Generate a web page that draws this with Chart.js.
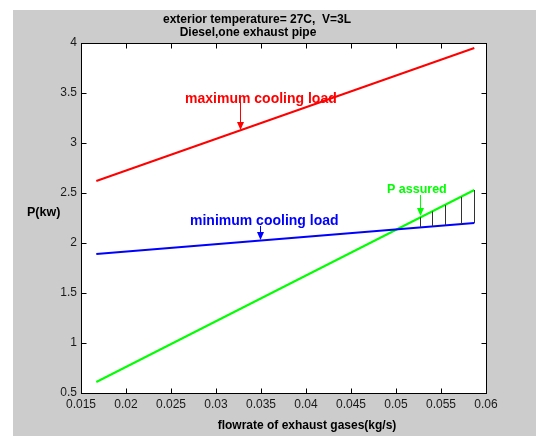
<!DOCTYPE html>
<html>
<head>
<meta charset="utf-8">
<script src="https://cdn.jsdelivr.net/npm/chart.js@4/dist/chart.umd.min.js"></script>
<style>
html,body{margin:0;padding:0;background:#fff;}
canvas{display:block;}
</style>
</head>
<body>
<canvas id="c" width="536" height="436"></canvas>
<script>
// ---- data ----
const flowX = [0.0167, 0.0587];
const maxCooling = [2.62, 3.95];
const minCooling = [1.89, 2.20];
const pAssured = [0.61, 2.53];

const hatchX = [0.0527, 0.0540, 0.0554, 0.0572, 0.0587];
const hatchTop = [2.256, 2.315, 2.379, 2.461, 2.53];
const hatchBottom = [2.156, 2.166, 2.176, 2.189, 2.20];

const xTicks = [0.015, 0.02, 0.025, 0.03, 0.035, 0.04, 0.045, 0.05, 0.055, 0.06];
const xTickLabels = ['0.015', '0.02', '0.025', '0.03', '0.035', '0.04', '0.045', '0.05', '0.055', '0.06'];
const yTicks = [0.5, 1, 1.5, 2, 2.5, 3, 3.5, 4];
const yTickLabels = ['0.5', '1', '1.5', '2', '2.5', '3', '3.5', '4'];

const titleLines = ['exterior temperature= 27C,  V=3L', 'Diesel,one exhaust pipe'];
const xLabel = 'flowrate of exhaust gases(kg/s)';
const yLabel = 'P(kw)';

const FAM = '"Liberation Sans", Arial, sans-serif';
const annotations = [
  {text: 'maximum cooling load', color: '#ff0000', size: 14, tx: 0.02656, ty: 3.44, ax: 0.03267, ay0: 3.41, ay1: 3.13},
  {text: 'minimum cooling load', color: '#0000ff', size: 14, tx: 0.02711, ty: 2.22, ax: 0.03489, ay0: 2.17, ay1: 2.03},
  {text: 'P assured', color: '#00ff00', size: 12.5, tx: 0.0490, ty: 2.53, ax: 0.05267, ay0: 2.48, ay1: 2.27}
];

const pts = (xs, ys) => xs.map((x, i) => ({x: x, y: ys[i]}));

const TICKFONT = {family: FAM, size: 12};

const decor = {
  id: 'decor',
  beforeDraw(chart) {
    const ctx = chart.ctx, a = chart.chartArea;
    ctx.save();
    ctx.fillStyle = '#ffffff';
    ctx.fillRect(0, 0, chart.width, chart.height);
    ctx.fillStyle = '#cccccc';
    ctx.fillRect(13, 10, chart.width - 13, chart.height - 10);
    ctx.fillStyle = '#ffffff';
    ctx.fillRect(a.left, a.top, a.right - a.left, a.bottom - a.top);
    ctx.restore();
  },
  afterDatasetsDraw(chart) {
    const ctx = chart.ctx, a = chart.chartArea;
    const xs = chart.scales.x, ys = chart.scales.y;
    ctx.save();
    // hatch
    ctx.strokeStyle = '#333333';
    ctx.lineWidth = 1;
    hatchX.forEach((v, i) => {
      const px = Math.round(xs.getPixelForValue(v)) + 0.5;
      ctx.beginPath();
      ctx.moveTo(px, ys.getPixelForValue(hatchTop[i]));
      ctx.lineTo(px, ys.getPixelForValue(hatchBottom[i]));
      ctx.stroke();
    });
    // box
    ctx.strokeStyle = '#000000';
    ctx.lineWidth = 1;
    const L = Math.round(a.left) + 0.5, R = Math.round(a.right) + 0.5, T = Math.round(a.top) + 0.5, B = Math.round(a.bottom) + 0.5;
    ctx.strokeRect(L, T, R - L, B - T);
    ctx.beginPath();
    xTicks.forEach(v => {
      const px = Math.round(xs.getPixelForValue(v)) + 0.5;
      ctx.moveTo(px, B); ctx.lineTo(px, B - 5);
      ctx.moveTo(px, T); ctx.lineTo(px, T + 5);
    });
    yTicks.forEach(v => {
      const py = Math.round(ys.getPixelForValue(v)) + 0.5;
      ctx.moveTo(L, py); ctx.lineTo(L + 5, py);
      ctx.moveTo(R, py); ctx.lineTo(R - 5, py);
    });
    ctx.stroke();
    // annotations
    ctx.textBaseline = 'middle';
    ctx.textAlign = 'left';
    annotations.forEach(an => {
      ctx.font = 'bold ' + an.size + 'px ' + FAM;
      ctx.fillStyle = an.color;
      ctx.strokeStyle = an.color;
      ctx.fillText(an.text, xs.getPixelForValue(an.tx), ys.getPixelForValue(an.ty));
      const px = Math.round(xs.getPixelForValue(an.ax)) + 0.5;
      const y0 = ys.getPixelForValue(an.ay0), y1 = ys.getPixelForValue(an.ay1);
      ctx.lineWidth = 1;
      ctx.beginPath();
      ctx.moveTo(px, y0); ctx.lineTo(px, y1 - 7);
      ctx.stroke();
      ctx.beginPath();
      ctx.moveTo(px - 3.5, y1 - 8);
      ctx.lineTo(px + 3.5, y1 - 8);
      ctx.lineTo(px, y1);
      ctx.closePath();
      ctx.fill();
    });
    // titles and axis labels
    ctx.font = 'bold 12px ' + FAM;
    ctx.fillStyle = '#000000';
    ctx.textAlign = 'center';
    ctx.fillText(titleLines[0], 257, 20);
    ctx.fillText(titleLines[1], 248, 33);
    ctx.fillText(xLabel, 307, 426);
    ctx.textAlign = 'left';
    ctx.font = 'bold 12.5px ' + FAM;
    ctx.fillText(yLabel, 27, 213);
    ctx.restore();
  }
};

new Chart(document.getElementById('c'), {
  type: 'scatter',
  data: {
    datasets: [
      {label: 'maximum cooling load', data: pts(flowX, maxCooling), showLine: true, borderColor: '#ff0000', backgroundColor: '#ff0000', borderWidth: 2, pointRadius: 0},
      {label: 'minimum cooling load', data: pts(flowX, minCooling), showLine: true, borderColor: '#0000ff', backgroundColor: '#0000ff', borderWidth: 2, pointRadius: 0},
      {label: 'P assured', data: pts(flowX, pAssured), showLine: true, borderColor: '#00ff00', backgroundColor: '#00ff00', borderWidth: 2, pointRadius: 0}
    ]
  },
  options: {
    responsive: false,
    animation: false,
    devicePixelRatio: 1,
    layout: {padding: {left: 0, top: 43, right: 50, bottom: 0}},
    plugins: {legend: {display: false}, tooltip: {enabled: false}, title: {display: false}},
    scales: {
      x: {
        type: 'linear', min: 0.015, max: 0.06,
        grid: {display: false, drawTicks: false},
        border: {display: false},
        afterBuildTicks: s => { s.ticks = xTicks.map(v => ({value: v})); },
        afterFit: s => { s.height = 43; },
        ticks: {padding: 4, color: '#1a1a1a', font: TICKFONT, maxRotation: 0, autoSkip: false,
          callback: (v, i) => xTickLabels[i]}
      },
      y: {
        type: 'linear', min: 0.5, max: 4,
        grid: {display: false, drawTicks: false},
        border: {display: false},
        afterBuildTicks: s => { s.ticks = yTicks.map(v => ({value: v})); },
        afterFit: s => { s.width = 81; },
        ticks: {padding: 4, color: '#1a1a1a', font: TICKFONT, autoSkip: false,
          callback: (v, i) => yTickLabels[i]}
      }
    }
  },
  plugins: [decor]
});
</script>
</body>
</html>
